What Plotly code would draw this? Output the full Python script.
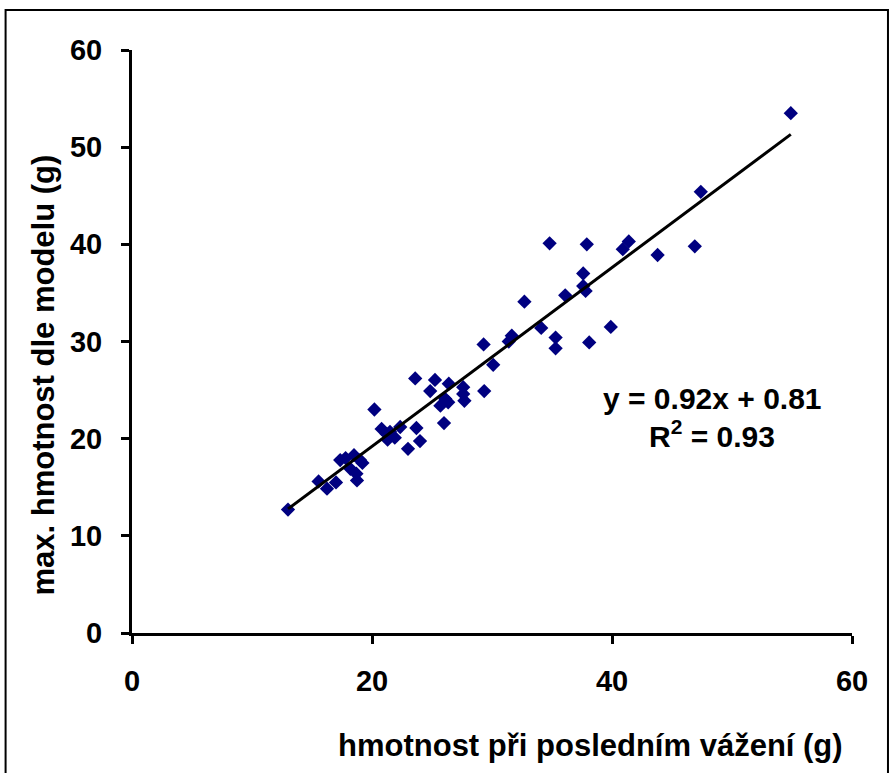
import plotly.graph_objects as go

# measured weight at last weighing (g)
x_vals = [13.0, 15.55, 16.25, 17.0, 17.35, 17.8, 18.5, 19.0, 18.2, 18.7, 18.75, 19.2,
          20.2, 20.8, 21.2, 21.5, 21.9, 21.3, 22.35, 23.0, 23.7, 24.0, 23.6, 25.25,
          24.85, 26.0, 26.4, 25.7, 26.35, 26.1, 27.6, 27.6, 27.7, 29.35, 29.3, 30.1,
          31.4, 31.65, 32.7, 34.1, 34.8, 35.3, 35.3, 36.1, 37.9, 37.6, 37.6, 37.8,
          38.1, 39.9, 40.9, 41.4, 43.8, 46.9, 47.4, 54.9]
# model max weight (g)
y_vals = [12.7, 15.6, 14.85, 15.5, 17.8, 18.0, 18.3, 17.8, 16.9, 16.4, 15.7, 17.5,
          23.0, 21.0, 20.5, 20.7, 20.1, 19.9, 21.2, 18.95, 21.1, 19.75, 26.2, 26.05,
          24.9, 21.6, 25.65, 23.4, 23.75, 24.1, 25.3, 24.6, 23.9, 24.9, 29.7, 27.6,
          30.0, 30.6, 34.1, 31.4, 40.1, 30.4, 29.3, 34.75, 40.0, 37.0, 35.7, 35.2,
          29.9, 31.5, 39.5, 40.3, 38.9, 39.8, 45.4, 53.5]

slope = 0.92
intercept = 0.81
r2 = 0.93

x_ticks = [0, 20, 40, 60]
y_ticks = [0, 10, 20, 30, 40, 50, 60]

x_title = "hmotnost při posledním vážení (g)"
y_title = "max. hmotnost dle modelu (g)"

fig = go.Figure()
fig.add_trace(go.Scatter(
    x=x_vals, y=y_vals, mode="markers",
    marker=dict(symbol="diamond", size=11, color="#000080", line=dict(width=0)),
    showlegend=False, hoverinfo="x+y"))

xmin, xmax = min(x_vals), max(x_vals)
fig.add_trace(go.Scatter(
    x=[xmin, xmax], y=[slope * xmin + intercept, slope * xmax + intercept],
    mode="lines", line=dict(color="black", width=3), showlegend=False))

font_family = "Liberation Sans, Arial, sans-serif"

fig.update_layout(
    width=891, height=773,
    margin=dict(l=131.5, r=39, t=50, b=140),
    plot_bgcolor="white", paper_bgcolor="white",
    font=dict(family=font_family, color="black"),
    xaxis=dict(range=[0, 60], tickvals=x_ticks, showgrid=False, zeroline=False,
               showline=True, linecolor="black", linewidth=3,
               ticks="outside", ticklen=8, tickwidth=3, tickcolor="black",
               ticklabelstandoff=12,
               tickfont=dict(size=29, family=font_family, weight="bold")),
    yaxis=dict(range=[0, 60], tickvals=y_ticks, showgrid=False, zeroline=False,
               showline=True, linecolor="black", linewidth=3,
               ticks="outside", ticklen=8, tickwidth=3, tickcolor="black",
               ticklabelstandoff=13,
               tickfont=dict(size=29, family=font_family, weight="bold")),
)

# chart frame
fig.add_shape(type="rect", xref="paper", yref="paper",
              x0=(5 - 131.5) / 720.5, x1=(888 - 131.5) / 720.5,
              y0=(633 - 790) / 583, y1=(633 - 10) / 583,
              line=dict(color="black", width=2), fillcolor="rgba(0,0,0,0)",
              layer="below")

# axis titles
fig.add_annotation(text=f"<b>{x_title}</b>", xref="paper", yref="paper",
                   x=(590 - 131.5) / 720.5, y=(633 - 745) / 583,
                   showarrow=False, font=dict(size=31, family=font_family),
                   xanchor="center", yanchor="middle")
fig.add_annotation(text=f"<b>{y_title}</b>", xref="paper", yref="paper",
                   x=(42 - 131.5) / 720.5, y=(633 - 375) / 583,
                   showarrow=False, textangle=-90, font=dict(size=31, family=font_family),
                   xanchor="center", yanchor="middle")

# equation
fig.add_annotation(text=f"<b>y = {slope:.2f}x + {intercept:.2f}</b>",
                   xref="paper", yref="paper",
                   x=(712 - 131.5) / 720.5, y=(633 - 398) / 583,
                   showarrow=False, font=dict(size=30, family=font_family),
                   xanchor="center", yanchor="middle")
fig.add_annotation(text=f"<b>R<sup>2</sup> = {r2:.2f}</b>",
                   xref="paper", yref="paper",
                   x=(712 - 131.5) / 720.5, y=(633 - 434) / 583,
                   showarrow=False, font=dict(size=30, family=font_family),
                   xanchor="center", yanchor="middle")

fig.write_html("out.html")
